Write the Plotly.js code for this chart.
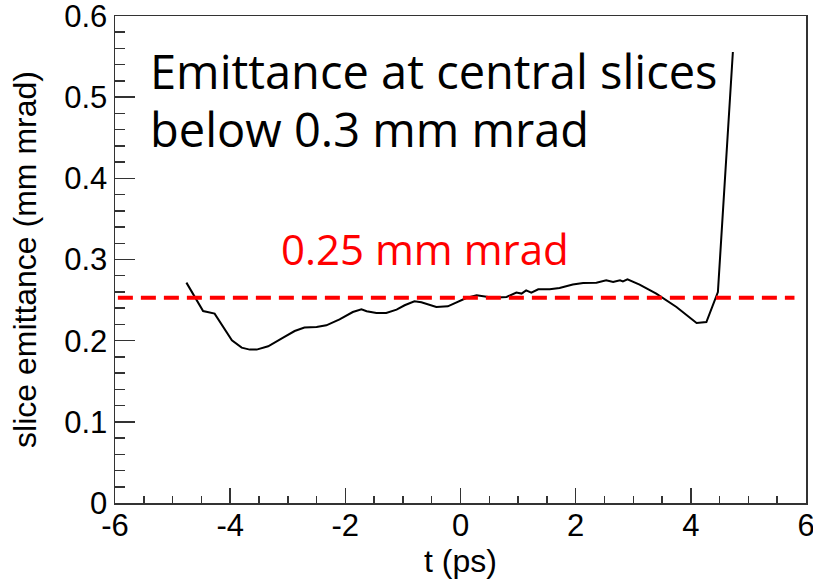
<!DOCTYPE html>
<html>
<head>
<meta charset="utf-8">
<script src="https://cdn.plot.ly/plotly-3.0.1.min.js"></script>
<style>html,body{margin:0;padding:0;background:#fff;}#chart{width:813px;height:579px;}</style>
</head>
<body>
<div id="chart"></div>
<script>
var tValues = [-4.76,-4.47,-4.27,-3.97,-3.80,-3.66,-3.54,-3.34,-3.08,-2.88,-2.71,-2.50,-2.33,-2.10,-1.87,-1.72,-1.63,-1.46,-1.29,-1.11,-0.97,-0.80,-0.68,-0.56,-0.42,-0.22,-0.07,0.10,0.28,0.42,0.57,0.80,0.97,1.06,1.14,1.23,1.35,1.55,1.72,1.95,2.13,2.36,2.53,2.65,2.77,2.82,2.90,3.11,3.40,3.75,4.10,4.27,4.47,4.73];
var emittance = [0.2715,0.2365,0.2333,0.2004,0.1914,0.1890,0.1890,0.1931,0.2038,0.2119,0.2161,0.2168,0.2189,0.2263,0.2353,0.2386,0.2362,0.2341,0.2341,0.2383,0.2436,0.2485,0.2473,0.2444,0.2415,0.2423,0.2476,0.2526,0.2559,0.2546,0.2530,0.2538,0.2592,0.2580,0.2620,0.2592,0.2633,0.2633,0.2649,0.2691,0.2710,0.2715,0.2744,0.2723,0.2744,0.2731,0.2756,0.2691,0.2580,0.2415,0.2218,0.2230,0.2599,0.5556];
var refT = [-5.95, 5.8];
var refLevel = [0.253, 0.253];
var xTickVals = [-6, -4, -2, 0, 2, 4, 6];
var xTickText = ["-6", "-4", "-2", "0", "2", "4", "6"];
var yTickVals = [0, 0.1, 0.2, 0.3, 0.4, 0.5, 0.6];
var yTickText = ["0", "0.1", "0.2", "0.3", "0.4", "0.5", "0.6"];
var titleLines = ["Emittance at central slices", "below 0.3 mm mrad"];
var refLabel = "0.25 mm mrad";

var traces = [
  {x: tValues, y: emittance, type: 'scatter', mode: 'lines', line: {color: '#000', width: 2}, hoverinfo: 'skip'},
  {x: refT, y: refLevel, type: 'scatter', mode: 'lines', line: {color: '#ff0000', width: 4, dash: '15px,8px'}, hoverinfo: 'skip'}
];

var tickFont = {family: 'Liberation Sans, Arial, sans-serif', size: 31, color: '#000'};
var titleFont = {family: 'Liberation Sans, Arial, sans-serif', size: 32, color: '#000'};
var W = 690.7, H = 487, L = 115.3, T = 16;
function px(x) { return (x - L) / W; }
function py(y) { return 1 - (y - T) / H; }
var layout = {
  width: 813, height: 579,
  margin: {l: 115.3, r: 7, t: 16, b: 76, pad: 0},
  paper_bgcolor: '#fff', plot_bgcolor: '#fff',
  showlegend: false,
  xaxis: {
    range: [-6, 6], tickmode: 'array', tickvals: xTickVals, ticktext: xTickText,
    ticks: 'inside', ticklen: 15, tickwidth: 1.5, tickcolor: '#333',
    minor: {dtick: 0.5, tick0: -6, ticks: 'inside', ticklen: 7.5, tickwidth: 1.5, tickcolor: '#333', showgrid: false},
    showgrid: false, zeroline: false,
    showline: true, linecolor: '#333', linewidth: 1.5, mirror: true,
    tickfont: tickFont, ticklabeloverflow: 'allow', ticklabelstandoff: -6,
    title: {text: 't (ps)', font: titleFont, standoff: 4}
  },
  yaxis: {
    range: [0, 0.6], tickmode: 'array', tickvals: yTickVals, ticktext: yTickText,
    ticks: 'inside', ticklen: 20, tickwidth: 1.5, tickcolor: '#333',
    minor: {dtick: 0.02, tick0: 0, ticks: 'inside', ticklen: 10, tickwidth: 1.5, tickcolor: '#333', showgrid: false},
    showgrid: false, zeroline: false,
    showline: true, linecolor: '#333', linewidth: 1.5, mirror: true,
    tickfont: tickFont, ticklabeloverflow: 'allow',
    title: {text: 'slice emittance (mm mrad)', font: titleFont, standoff: 18}
  },
  annotations: [
    {xref: 'paper', yref: 'paper', x: px(148), y: py(71), xanchor: 'left', yanchor: 'middle',
     text: titleLines[0], showarrow: false, align: 'left',
     font: {family: 'Open Sans, sans-serif', size: 47, color: '#000'}},
    {xref: 'paper', yref: 'paper', x: px(148), y: py(129), xanchor: 'left', yanchor: 'middle',
     text: titleLines[1], showarrow: false, align: 'left',
     font: {family: 'Open Sans, sans-serif', size: 47, color: '#000'}},
    {xref: 'paper', yref: 'paper', x: px(425), y: py(249), xanchor: 'center', yanchor: 'middle',
     text: refLabel, showarrow: false,
     font: {family: 'Open Sans, sans-serif', size: 42, color: '#ff0000'}}
  ]
};
Plotly.newPlot('chart', traces, layout, {staticPlot: true, displayModeBar: false});
</script>
</body>
</html>
